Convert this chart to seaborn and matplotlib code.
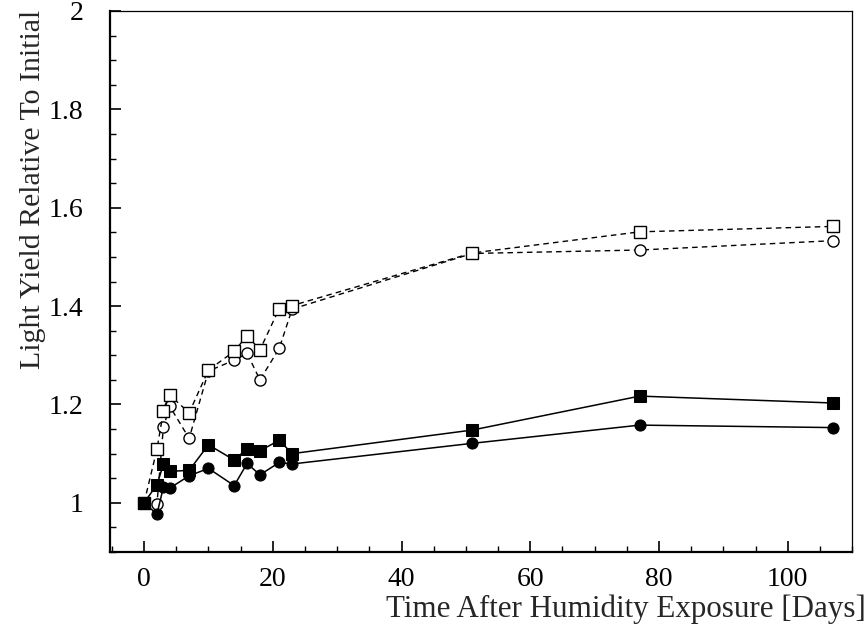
"""
Light yield relative to initial value versus days after humidity exposure.
Four samples: filled markers (solid lines) and open markers (dashed lines).
"""

import matplotlib
matplotlib.use("Agg")
import matplotlib.pyplot as plt
import seaborn as sns
from matplotlib.ticker import MultipleLocator

# Data
DAYS = [0, 2, 3, 4, 7, 10, 14, 16, 18, 21, 23, 51, 77, 107]
FILLED_SQUARE = [1.0, 1.037, 1.078, 1.064, 1.066, 1.118, 1.087, 1.110, 1.106,
                 1.127, 1.100, 1.148, 1.217, 1.203]
FILLED_CIRCLE = [1.0, 0.977, 1.032, 1.030, 1.055, 1.070, 1.035, 1.080, 1.057,
                 1.082, 1.079, 1.121, 1.158, 1.153]
OPEN_SQUARE = [1.0, 1.109, 1.186, 1.219, 1.183, 1.270, 1.308, 1.340, 1.311,
               1.395, 1.401, 1.508, 1.551, 1.562]
OPEN_CIRCLE = [1.0, 0.998, 1.154, 1.196, 1.131, 1.268, 1.290, 1.304, 1.250,
               1.314, 1.394, 1.507, 1.514, 1.533]

XLABEL = "Time After Humidity Exposure [Days]"
YLABEL = "Light Yield Relative To Initial"

sns.set_style("ticks")
plt.rcParams["font.family"] = ["Liberation Serif", "DejaVu Serif"]

DASH = (0, (4, 3))


def main():
    fig = plt.figure(figsize=(8.68, 6.28), dpi=100)
    ax = fig.add_axes([0.1267, 0.121, 0.855, 0.8615])

    # open markers, dashed lines
    for vals, mk in [(OPEN_CIRCLE, "o"), (OPEN_SQUARE, "s")]:
        sns.lineplot(x=DAYS, y=vals, ax=ax, color="black", linewidth=1.0,
                     linestyle=DASH, marker=mk, markersize=8,
                     markerfacecolor="white", markeredgecolor="black",
                     markeredgewidth=1.0)

    # filled markers, solid lines
    for vals, mk, ms in [(FILLED_CIRCLE, "o", 8), (FILLED_SQUARE, "s", 8.5)]:
        sns.lineplot(x=DAYS, y=vals, ax=ax, color="black", linewidth=1.1,
                     marker=mk, markersize=ms, markerfacecolor="black",
                     markeredgecolor="black")

    ax.set_xlim(-5.3, 110)
    ax.set_ylim(0.9, 2.0)
    ax.xaxis.set_major_locator(MultipleLocator(20))
    ax.xaxis.set_minor_locator(MultipleLocator(5))
    ax.yaxis.set_major_locator(MultipleLocator(0.2))
    ax.yaxis.set_minor_locator(MultipleLocator(0.05))
    ax.yaxis.set_major_formatter(
        matplotlib.ticker.FuncFormatter(lambda v, p: f"{v:g}"))

    ax.tick_params(which="both", direction="in", top=False, right=False,
                   labelsize=20, color="black", labelcolor="black")
    ax.tick_params(which="major", length=8, width=1.2)
    ax.tick_params(which="minor", length=4.5, width=1.0)
    ax.tick_params(axis="x", which="major", pad=11)
    ax.tick_params(axis="y", which="major", pad=19)

    for side in ["left", "bottom"]:
        ax.spines[side].set_linewidth(1.6)
    for side in ["top", "right"]:
        ax.spines[side].set_linewidth(0.9)
    for sp in ax.spines.values():
        sp.set_color("black")
        sp.set_visible(True)

    fig.text(0.997, 0.030, XLABEL, ha="right", va="center", fontsize=22.3)
    fig.text(0.038, 0.985, YLABEL, ha="center", va="top", rotation=90,
             fontsize=21.5)

    fig.savefig("out.png", dpi=100)
    plt.close(fig)


if __name__ == "__main__":
    main()
